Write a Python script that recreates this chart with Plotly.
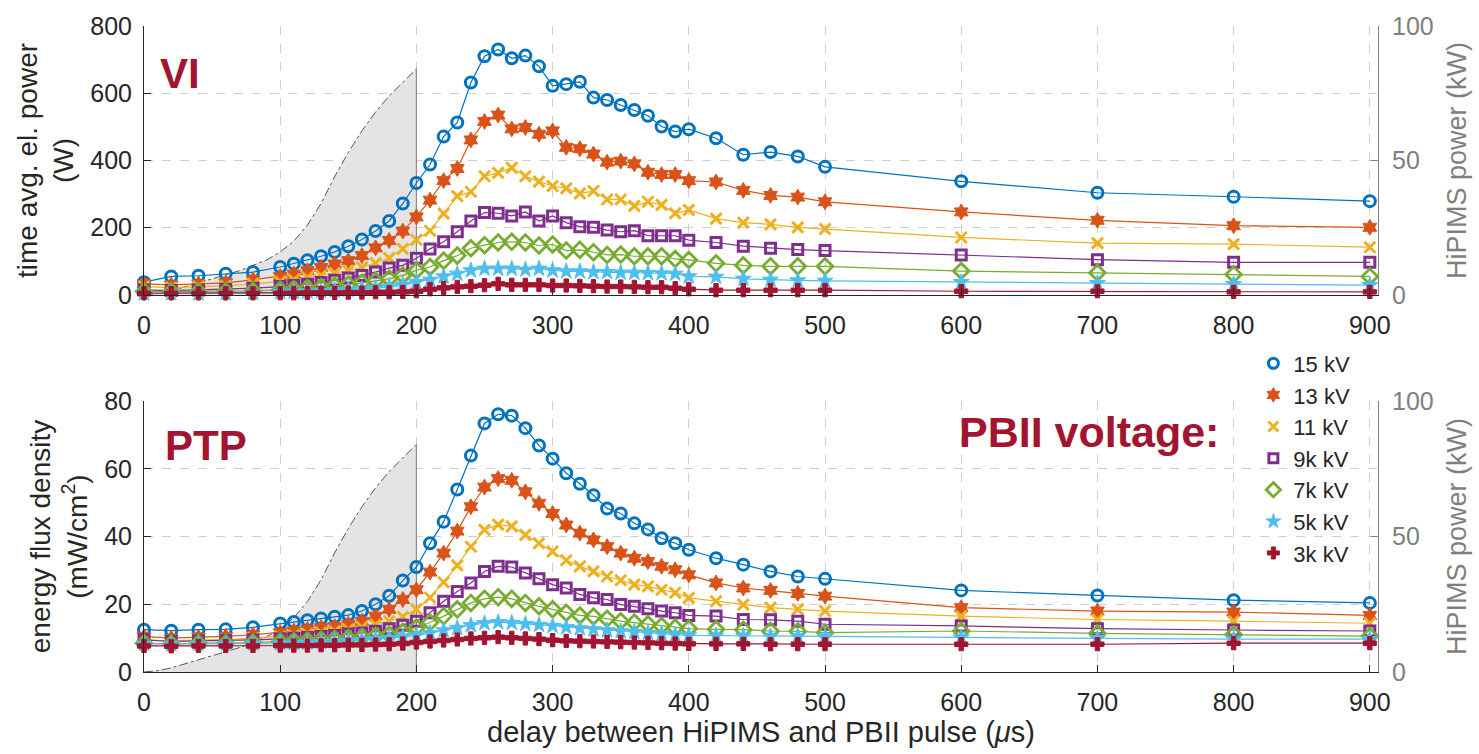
import plotly.graph_objects as go

# ---------------- data ----------------
delay = [0, 20, 40, 60, 80,
         100, 110, 120, 130, 140, 150, 160, 170, 180, 190, 200,
         210, 220, 230, 240, 250, 260, 270, 280, 290, 300, 310, 320, 330, 340, 350, 360, 370, 380, 390, 400,
         420, 440, 460, 480, 500,
         600, 700, 800, 900]

series_names = ["15 kV", "13 kV", "11 kV", "9k kV", "7k kV", "5k kV", "3k kV"]

# time averaged electrical power (W) -- VI
vi_15 = [38, 55, 57, 63, 68,
         83, 93, 103, 115, 128, 145, 165, 190, 220, 272, 333,
         388, 471, 513, 632, 710, 730, 704, 712, 680, 622, 627, 634, 587, 580, 565, 550, 533, 501, 486, 493,
         466, 417, 425, 412, 381,
         338, 304, 292, 279]
vi_13 = [33, 30, 33, 36, 45,
         55, 62, 72, 82, 92, 102, 117, 140, 162, 190, 232,
         282, 340, 376, 461, 516, 535, 494, 498, 478, 488, 439, 435, 419, 395, 398, 390, 365, 358, 358, 340,
         336, 311, 296, 291, 277,
         247, 222, 206, 201]
vi_11 = [25, 22, 25, 27, 32,
         40, 45, 52, 58, 65, 72, 82, 95, 110, 137, 164,
         191, 242, 294, 307, 353, 363, 378, 353, 337, 324, 317, 302, 309, 284, 284, 265, 277, 268, 243, 253,
         227, 215, 210, 201, 196,
         171, 154, 151, 142]
vi_9 = [15, 13, 15, 17, 20,
        25, 28, 32, 37, 44, 50, 58, 68, 80, 88, 109,
        137, 158, 188, 220, 245, 243, 235, 247, 220, 235, 215, 203, 201, 193, 188, 191, 176, 176, 176, 163,
        156, 145, 139, 135, 132,
        119, 105, 97, 97]
vi_7 = [10, 10, 10, 10, 12,
        15, 17, 20, 23, 27, 31, 36, 42, 48, 58, 73,
        83, 102, 117, 139, 148, 156, 158, 156, 147, 150, 132, 134, 127, 119, 120, 115, 115, 115, 107, 104,
        94, 88, 85, 85, 85,
        71, 66, 61, 55]
vi_5 = [5, 5, 5, 5, 6,
        8, 9, 10, 11, 13, 15, 17, 20, 24, 30, 38,
        45, 55, 63, 73, 78, 78, 78, 75, 78, 73, 70, 70, 68, 68, 66, 66, 65, 64, 63, 55,
        54, 48, 45, 43, 42,
        38, 35, 32, 29]
vi_3 = [5, 5, 5, 5, 5,
        5, 5, 6, 6, 6, 7, 7, 8, 8, 9, 11,
        17, 21, 24, 26, 29, 33, 30, 30, 30, 28, 28, 27, 26, 25, 25, 24, 23, 23, 20, 17,
        14, 14, 14, 14, 14,
        11, 11, 9, 9]

# energy flux density (mW/cm^2) -- PTP
ptp_15 = [12.5, 12.2, 12.5, 12.6, 13.2,
          14.3, 14.8, 15.3, 15.8, 16.3, 16.8, 18, 20, 22.5, 27, 31,
          38, 44.4, 53.9, 63.9, 73.4, 76.1, 75.7, 72, 66.9, 63, 58.7, 55.6, 52.2, 48.3, 46.8, 43.9, 42.1, 39.5, 38, 36.1,
          33.6, 31.7, 29.7, 28.2, 27.5,
          24.1, 22.6, 21.2, 20.4]
ptp_13 = [10.5, 10, 10.3, 10.5, 11,
          11.6, 12.1, 12.6, 13.1, 13.4, 14.1, 15, 16.5, 18.5, 21.4, 24.3,
          29.5, 35.1, 41.6, 48.8, 54.6, 57.1, 56.6, 53.2, 49.8, 46.8, 43.4, 41, 39, 37, 35.1, 33.6, 32.6, 31.2, 30.2, 28.7,
          26.3, 24.8, 24.1, 23.2, 22.4,
          19, 18, 17.7, 16.7]
ptp_11 = [9.5, 9.2, 9.5, 9.6, 10,
          10.5, 10.8, 11.2, 11.6, 12, 12.5, 13.2, 14, 15, 16.3, 18.5,
          22, 26.5, 31.5, 37, 42, 43.5, 43, 40.5, 38, 35.6, 33, 31.2, 29.7, 28.2, 27.1, 25.8, 25.3, 24.3, 23.4, 21.9,
          20.9, 19.9, 19, 18.5, 18,
          16.5, 15.5, 15, 14.4]
ptp_9 = [9.5, 9, 9.2, 9.3, 9.5,
         9.8, 10, 10.2, 10.5, 10.8, 11.2, 11.5, 12, 12.8, 13.8, 15,
         17.5, 20.9, 23.8, 26.3, 29.7, 31.2, 31, 29.2, 27.5, 25.8, 24.8, 22.9, 21.9, 21.4, 19.9, 19.4, 18.7, 18, 17.5, 16.7,
         16.5, 15.5, 15.4, 15, 14.1,
         13.6, 12.8, 12.4, 12.1]
ptp_7 = [8.5, 8.3, 8.5, 8.5, 8.7,
         9, 9.1, 9.3, 9.5, 9.7, 10, 10.3, 10.6, 11, 11.8, 13.1,
         14.6, 16.5, 18.5, 20.4, 21.6, 22.1, 21.6, 20.4, 19.4, 18.5, 17.5, 16.7, 16.4, 15.7, 15, 14.6, 14.1, 13.6, 13.1, 12.8,
         12.6, 12.5, 12.1, 12, 11.6,
         12.1, 11.4, 11.1, 10.6]
ptp_5 = [8.3, 8.2, 8.3, 8.3, 8.4,
         8.5, 8.6, 8.7, 8.8, 9, 9.2, 9.4, 9.7, 10, 10.4, 10.8,
         11.5, 12.3, 13, 13.8, 14.4, 14.7, 14.5, 14.2, 13.9, 13.6, 13.2, 12.9, 12.6, 12.3, 12, 11.8, 11.5, 11.3, 11, 10.8,
         10.7, 10.6, 10.6, 10.6, 10.5,
         10.2, 9.9, 9.7, 9.7]
ptp_3 = [7.7, 7.6, 7.7, 7.7, 7.7,
         7.8, 7.8, 7.8, 7.9, 7.9, 8, 8, 8.1, 8.2, 8.4, 8.7,
         9, 9.3, 9.6, 9.9, 10.1, 10.3, 10.1, 9.9, 9.7, 9.4, 9.2, 9.1, 9, 8.9, 8.8, 8.7, 8.6, 8.5, 8.4, 8.3,
         8.3, 8.3, 8.2, 8.2, 8.2,
         8.2, 8.2, 8.5, 8.5]

# HiPIMS discharge power (kW)
hipims_t = [0, 10, 20, 30, 40, 50, 60, 70, 80, 90, 100, 110, 120, 130, 140, 150, 160, 170, 180, 190, 200]
hipims_p = [0, 0.5, 1.5, 3, 4.5, 6, 7.5, 9, 11, 13, 16, 20, 26, 34, 44, 53, 61, 68, 74, 79, 84]
hipims_end_t = [200, 200]
hipims_end_p = [84, 0]

x_ticks = [0, 100, 200, 300, 400, 500, 600, 700, 800, 900]

# ---------------- styles ----------------
colors = ["#0072BD", "#D95319", "#EDB120", "#7E2F8E", "#77AC30", "#4DBEEE", "#A2142F"]
symbols = ["circle-open", "hexagram", "x-thin-open", "square-open", "diamond-open", "star", "cross"]
msizes = [11, 12, 11, 10, 12, 12, 11]
mlw = [3, 1, 3, 3, 2.8, 1, 1]
FONT = "Liberation Sans, Arial, sans-serif"
DARK = "#262626"
GREY = "#7f7f7f"
ACCENT = "#A2142F"

vi_data = [vi_15, vi_13, vi_11, vi_9, vi_7, vi_5, vi_3]
ptp_data = [ptp_15, ptp_13, ptp_11, ptp_9, ptp_7, ptp_5, ptp_3]

fig = go.Figure()

# HiPIMS power areas (base axes on the right)
for xa, ya in [("x", "y"), ("x2", "y2")]:
    fig.add_trace(go.Scatter(
        x=hipims_t + hipims_end_t[1:], y=hipims_p + hipims_end_p[1:], xaxis=xa, yaxis=ya,
        mode="none", fill="tozeroy", fillcolor="#e4e4e4",
        showlegend=False, hoverinfo="skip"))
    fig.add_trace(go.Scatter(
        x=hipims_t, y=hipims_p, xaxis=xa, yaxis=ya, mode="lines",
        line=dict(color="#555555", width=1, dash="dashdot"),
        showlegend=False, hoverinfo="skip"))
    fig.add_trace(go.Scatter(
        x=hipims_end_t, y=hipims_end_p, xaxis=xa, yaxis=ya, mode="lines",
        line=dict(color="#8a8a8a", width=1.2),
        showlegend=False, hoverinfo="skip"))


def add_series(values, xa, ya):
    for i, vals in enumerate(values):
        fig.add_trace(go.Scatter(
            x=delay, y=vals, xaxis=xa, yaxis=ya, mode="lines+markers",
            line=dict(color=colors[i], width=1.2),
            marker=dict(symbol=symbols[i], size=msizes[i], color=colors[i],
                        line=dict(color=colors[i], width=mlw[i])),
            showlegend=False, cliponaxis=False))


add_series(vi_data, "x", "y3")
add_series(ptp_data, "x2", "y4")

# legend proxies: markers only, as in the original
for i, name in enumerate(series_names):
    fig.add_trace(go.Scatter(
        x=[None], y=[None], xaxis="x2", yaxis="y4", mode="markers", name=name,
        marker=dict(symbol=symbols[i], size=msizes[i] - 1, color=colors[i],
                    line=dict(color=colors[i], width=mlw[i]))))

top_dom = [0.5837, 1.0]
bot_dom = [0.0, 0.4194]

xcommon = dict(range=[0, 906], tickvals=x_ticks, showgrid=True, gridcolor="#cfcfcf",
               griddash="dash", gridwidth=1, zeroline=False, showline=True, linecolor=DARK,
               linewidth=1, ticks="inside", ticklen=7, tickcolor=DARK,
               tickfont=dict(size=25, color=DARK, family=FONT), ticklabelstandoff=8)
right_common = dict(range=[0, 100], tickvals=[0, 50, 100], side="right", showgrid=False,
                    zeroline=False, showline=True, linecolor=GREY, linewidth=1,
                    ticks="inside", ticklen=7, tickcolor=GREY,
                    tickfont=dict(size=25, color=GREY, family=FONT), ticklabelstandoff=8,
                    title=dict(text="HiPIMS power (kW)", font=dict(size=27, color=GREY, family=FONT),
                               standoff=14))
left_common = dict(side="left", showgrid=True, gridcolor="#cfcfcf", griddash="dash",
                   zeroline=False, showline=True, linecolor=DARK, linewidth=1,
                   ticks="inside", ticklen=7, tickcolor=DARK,
                   tickfont=dict(size=25, color=DARK, family=FONT), ticklabelstandoff=6)

fig.update_layout(
    width=1479, height=754,
    margin=dict(l=144, r=96, t=22, b=81),
    paper_bgcolor="white", plot_bgcolor="white",
    font=dict(family=FONT, color=DARK),
    xaxis=dict(anchor="y", domain=[0, 1], **xcommon),
    xaxis2=dict(anchor="y2", domain=[0, 1],
                title=dict(text="delay between HiPIMS and PBII pulse (<i>\u03bc</i>s)",
                           font=dict(size=29, color=DARK, family=FONT), standoff=6),
                **xcommon),
    yaxis=dict(anchor="x", domain=top_dom, **right_common),
    yaxis2=dict(anchor="x2", domain=bot_dom, **right_common),
    yaxis3=dict(anchor="x", overlaying="y", range=[0, 800], tickvals=[0, 200, 400, 600, 800],
                title=dict(text="time avg. el. power<br>(W)", font=dict(size=28, color=DARK, family=FONT),
                           standoff=8),
                **left_common),
    yaxis4=dict(anchor="x2", overlaying="y2", range=[0, 80], tickvals=[0, 20, 40, 60, 80],
                title=dict(text="energy flux density<br>(mW/cm<sup>2</sup>)",
                           font=dict(size=28, color=DARK, family=FONT), standoff=8),
                **left_common),
    legend=dict(x=0.899, y=0.51, xanchor="left", yanchor="top", bgcolor="rgba(0,0,0,0)",
                font=dict(size=22, color=DARK, family=FONT), itemwidth=30, traceorder="normal"),
    showlegend=True,
)

fig.add_annotation(x=10, y=658, xref="x", yref="y3", text="<b>VI</b>", showarrow=False,
                   xanchor="left", yanchor="middle", font=dict(size=42, color=ACCENT, family=FONT))
fig.add_annotation(x=14, y=67, xref="x2", yref="y4", text="<b>PTP</b>", showarrow=False,
                   xanchor="left", yanchor="middle", font=dict(size=42, color=ACCENT, family=FONT))
fig.add_annotation(x=597, y=71, xref="x2", yref="y4", text="<b>PBII voltage:</b>", showarrow=False,
                   xanchor="left", yanchor="middle", font=dict(size=43, color=ACCENT, family=FONT))

fig.write_html("out.html")
